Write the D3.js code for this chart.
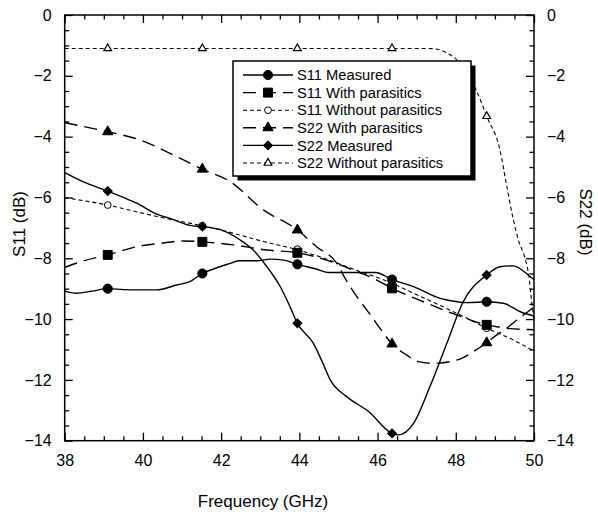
<!DOCTYPE html>
<html>
<head>
<meta charset="utf-8">
<script src="https://cdn.jsdelivr.net/npm/d3@7"></script>
<style>
  html, body { margin: 0; padding: 0; background: #fff; }
  svg { display: block; }
  text { font-family: "Liberation Sans", Arial, Helvetica, sans-serif; fill: #000; }
</style>
</head>
<body>
<svg id="chart" width="598" height="516"></svg>
<script>
// ---------------- data ----------------
const xTicks = [38, 40, 42, 44, 46, 48, 50];
const yTicks = [0, -2, -4, -6, -8, -10, -12, -14];
const xLabel = "Frequency (GHz)";
const yLeftLabel = "S11 (dB)";
const yRightLabel = "S22 (dB)";
const seriesNames = ["S11 Measured", "S11 With parasitics", "S11 Without parasitics",
                     "S22 With parasitics", "S22 Measured", "S22 Without parasitics"];

const markerFreq = [39.1, 41.52, 43.95, 46.37, 48.79];

const s11Meas = [[38,-9.08],[38.3,-9.15],[38.7,-9.08],[39.1,-9.0],[39.5,-9.03],[39.93,-9.04],[40.35,-9.04],
  [40.86,-8.88],[41.2,-8.77],[41.52,-8.5],[41.97,-8.28],[42.23,-8.17],[42.45,-8.08],[42.95,-8.08],
  [43.25,-8.03],[43.6,-8.06],[43.95,-8.2],[44.45,-8.36],[44.75,-8.47],[45.4,-8.47],[45.95,-8.47],
  [46.37,-8.7],[46.92,-8.93],[47.6,-9.32],[48.03,-9.43],[48.3,-9.46],[48.79,-9.43],[49.22,-9.48],
  [49.65,-9.76],[50,-9.9]];
const s11MeasMk = [-9.0, -8.5, -8.2, -8.7, -9.43];

const s11Para = [[38,-8.3],[38.5,-8.08],[39.1,-7.89],[39.84,-7.62],[40.44,-7.51],[41.03,-7.43],[41.52,-7.46],
  [42.31,-7.56],[43.17,-7.73],[43.95,-7.82],[44.7,-8.06],[45.47,-8.44],[45.89,-8.66],[46.37,-8.99],
  [47.17,-9.43],[48.03,-9.87],[48.79,-10.19],[49.3,-10.3],[50,-10.35]];
const s11ParaMk = [-7.89, -7.46, -7.82, -8.99, -10.19];

const s11NoPara = [[38,-6.01],[39.1,-6.25],[39.93,-6.5],[40.69,-6.72],[41.52,-6.93],[42.23,-7.15],
  [43.08,-7.45],[43.95,-7.72],[44.87,-8.11],[45.47,-8.4],[45.81,-8.55],[46.37,-8.82],[46.75,-9.05],
  [47.6,-9.55],[48.37,-10.03],[48.79,-10.3],[49.47,-10.69],[50,-11.05]];
const s11NoParaMk = [-6.25, -6.93, -7.7, -8.82, -10.3];

const s22Para = [[38,-3.54],[39.1,-3.84],[39.93,-4.11],[40.69,-4.55],[41.52,-5.07],[42.23,-5.48],
  [43.08,-6.41],[43.95,-7.07],[44.44,-7.62],[44.96,-8.17],[45.17,-8.66],[45.47,-9.26],[45.85,-9.92],
  [46.06,-10.3],[46.37,-10.82],[46.74,-11.18],[47.04,-11.4],[47.45,-11.46],[47.86,-11.4],[48.15,-11.29],
  [48.45,-11.07],[48.79,-10.78],[49.05,-10.52],[49.3,-10.3],[49.56,-10.03],[49.9,-9.7],[50,-9.6]];
const s22ParaMk = [-3.84, -5.07, -7.07, -10.82, -10.78];

const s22Meas = [[38,-5.18],[38.56,-5.53],[39.1,-5.79],[39.5,-6.0],[39.84,-6.19],[40.35,-6.55],[40.69,-6.69],
  [41.2,-6.92],[41.52,-6.96],[41.98,-7.06],[42.49,-7.4],[42.82,-7.73],[43.17,-8.28],[43.51,-8.93],
  [43.76,-9.59],[43.95,-10.14],[44.36,-10.8],[44.6,-11.45],[44.79,-12.0],[45.21,-12.55],[45.77,-13.04],
  [46.37,-13.76],[46.53,-13.81],[46.92,-13.43],[47.34,-12.22],[47.77,-10.8],[48.19,-9.43],[48.79,-8.55],
  [49.13,-8.28],[49.47,-8.25],[49.9,-8.6],[50,-8.7]];
const s22MeasMk = [-5.79, -6.96, -10.14, -13.76, -8.55];

const s22NoPara = [[38,-1.1],[39.1,-1.1],[41.52,-1.1],[43.95,-1.1],[46.37,-1.1],[47.3,-1.1],[47.6,-1.15],
  [47.8,-1.27],[48.03,-1.48],[48.25,-1.9],[48.5,-2.41],[48.79,-3.33],[49.13,-4.44],[49.3,-5.6],
  [49.45,-6.6],[49.6,-7.4],[49.77,-8.0],[49.87,-8.6],[49.93,-9.3],[50,-10.0]];
const s22NoParaMk = [-1.1, -1.1, -1.1, -1.1, -3.33];

// ---------------- chart ----------------
const svg = d3.select("#chart");
const x = d3.scaleLinear().domain([38, 50]).range([64.7, 534]);
const y = d3.scaleLinear().domain([-14, 0]).range([440.7, 15]);
const yR = d3.scaleLinear().domain([-14, 0]).range([440.7, 15]);

const X0 = x(38), X1 = x(50), Y0 = y(0), Y1 = y(-14);

const line = d3.line().x(d => x(d[0])).y(d => y(d[1])).curve(d3.curveMonotoneX);

const styles = {
  solid: null,
  long: "13,7",
  short: "4,3"
};

const series = [
  { name: seriesNames[0], data: s11Meas,   mk: s11MeasMk,   dash: styles.solid, sym: "circle" },
  { name: seriesNames[1], data: s11Para,   mk: s11ParaMk,   dash: styles.long,  sym: "square" },
  { name: seriesNames[2], data: s11NoPara, mk: s11NoParaMk, dash: styles.short, sym: "ocircle" },
  { name: seriesNames[3], data: s22Para,   mk: s22ParaMk,   dash: styles.long,  sym: "triangle" },
  { name: seriesNames[4], data: s22Meas,   mk: s22MeasMk,   dash: styles.solid, sym: "diamond" },
  { name: seriesNames[5], data: s22NoPara, mk: s22NoParaMk, dash: styles.short, sym: "otriangle" }
];

function drawSymbol(g, type, cx, cy) {
  let path, fill = "#000", stroke = "#000", sw = 1, rot = 0;
  if (type === "circle") path = d3.symbol(d3.symbolCircle, 66)();
  else if (type === "square") path = d3.symbol(d3.symbolSquare, 80)();
  else if (type === "ocircle") { path = d3.symbol(d3.symbolCircle, 36)(); fill = "#fff"; }
  else if (type === "triangle") path = d3.symbol(d3.symbolTriangle, 46)();
  else if (type === "diamond") { path = d3.symbol(d3.symbolSquare, 40)(); rot = 45; }
  else if (type === "otriangle") { path = d3.symbol(d3.symbolTriangle, 26)(); fill = "#fff"; sw = 1.2; }
  g.append("path").attr("d", path)
    .attr("transform", `translate(${cx},${cy}) rotate(${rot})`)
    .attr("fill", fill).attr("stroke", stroke).attr("stroke-width", sw);
}

// lines
const gLines = svg.append("g");
series.forEach(s => {
  gLines.append("path").datum(s.data).attr("d", line)
    .attr("fill", "none").attr("stroke", "#000")
    .attr("stroke-width", s.dash === styles.short ? 1.1 : 1.4)
    .attr("stroke-dasharray", s.dash);
});

// markers: open first, then filled
const gMk = svg.append("g");
const order = [2, 5, 0, 1, 3, 4];
order.forEach(i => {
  const s = series[i];
  markerFreq.forEach((f, j) => drawSymbol(gMk, s.sym, x(f), y(s.mk[j])));
});

// axes (ticks inward)
const minorX = d3.range(38, 50.01, 0.5).filter(v => Math.abs(v - Math.round(v / 2) * 2) > 1e-6);
const minorY = d3.range(-14, 0.01, 0.5).filter(v => Math.abs(v - Math.round(v / 2) * 2) > 1e-6);

function styleAxis(g) {
  g.select(".domain").remove();
  g.selectAll(".tick line").attr("stroke", "#000").attr("stroke-width", 1.3);
  g.selectAll("text").style("font-family", '"Liberation Sans", Arial, Helvetica, sans-serif').attr("fill", "#000");
}

svg.append("g").attr("transform", `translate(0,${Y1})`)
  .call(d3.axisBottom(x).tickValues(xTicks).tickSize(-8).tickPadding(14).tickFormat(d3.format("d")))
  .call(styleAxis).call(g => g.selectAll("text").style("font-size", "16px"));
svg.append("g").attr("transform", `translate(0,${Y1})`)
  .call(d3.axisBottom(x).tickValues(minorX).tickSize(-4.5).tickFormat(""))
  .call(styleAxis);
svg.append("g").attr("transform", `translate(0,${Y0})`)
  .call(d3.axisTop(x).tickValues(xTicks).tickSize(-8).tickFormat(""))
  .call(styleAxis);
svg.append("g").attr("transform", `translate(0,${Y0})`)
  .call(d3.axisTop(x).tickValues(minorX).tickSize(-4.5).tickFormat(""))
  .call(styleAxis);

svg.append("g").attr("transform", `translate(${X0},0)`)
  .call(d3.axisLeft(y).tickValues(yTicks).tickSize(-8).tickPadding(13).tickFormat(d3.format("d")))
  .call(styleAxis).call(g => g.selectAll("text").style("font-size", "16px"));
svg.append("g").attr("transform", `translate(${X0},0)`)
  .call(d3.axisLeft(y).tickValues(minorY).tickSize(-4.5).tickFormat(""))
  .call(styleAxis);
svg.append("g").attr("transform", `translate(${X1},0)`)
  .call(d3.axisRight(yR).tickValues(yTicks).tickSize(-8).tickPadding(13).tickFormat(d3.format("d")))
  .call(styleAxis).call(g => g.selectAll("text").style("font-size", "16px"));
svg.append("g").attr("transform", `translate(${X1},0)`)
  .call(d3.axisRight(yR).tickValues(minorY).tickSize(-4.5).tickFormat(""))
  .call(styleAxis);

// frame
svg.append("rect").attr("x", X0).attr("y", Y0).attr("width", X1 - X0).attr("height", Y1 - Y0)
  .attr("fill", "none").attr("stroke", "#000").attr("stroke-width", 1.5);

// axis titles
svg.append("text").attr("x", 263).attr("y", 507).attr("text-anchor", "middle")
  .style("font-size", "17px").text(xLabel);
svg.append("text").attr("transform", "translate(25,224) rotate(-90)").attr("text-anchor", "middle")
  .style("font-size", "17px").text(yLeftLabel);
svg.append("text").attr("transform", "translate(580,222) rotate(90)").attr("text-anchor", "middle")
  .style("font-size", "17px").text(yRightLabel);

// legend
const L = { x: 233, y: 61, w: 238, h: 115 };
const gL = svg.append("g");
gL.append("rect").attr("x", L.x + 4.5).attr("y", L.y + 4.5).attr("width", L.w).attr("height", L.h).attr("fill", "#000");
gL.append("rect").attr("x", L.x).attr("y", L.y).attr("width", L.w).attr("height", L.h)
  .attr("fill", "#fff").attr("stroke", "#000").attr("stroke-width", 1.5);
series.forEach((s, i) => {
  const cy = 75 + i * 17.6;
  gL.append("line").attr("x1", 243).attr("x2", 293).attr("y1", cy).attr("y2", cy)
    .attr("stroke", "#000").attr("stroke-width", s.dash === styles.short ? 1.1 : 1.4)
    .attr("stroke-dasharray", s.dash);
  drawSymbol(gL, s.sym, 268, cy);
  gL.append("text").attr("x", 297).attr("y", cy).attr("dy", "0.36em")
    .style("font-size", "14.7px").text(s.name);
});
</script>
</body>
</html>
